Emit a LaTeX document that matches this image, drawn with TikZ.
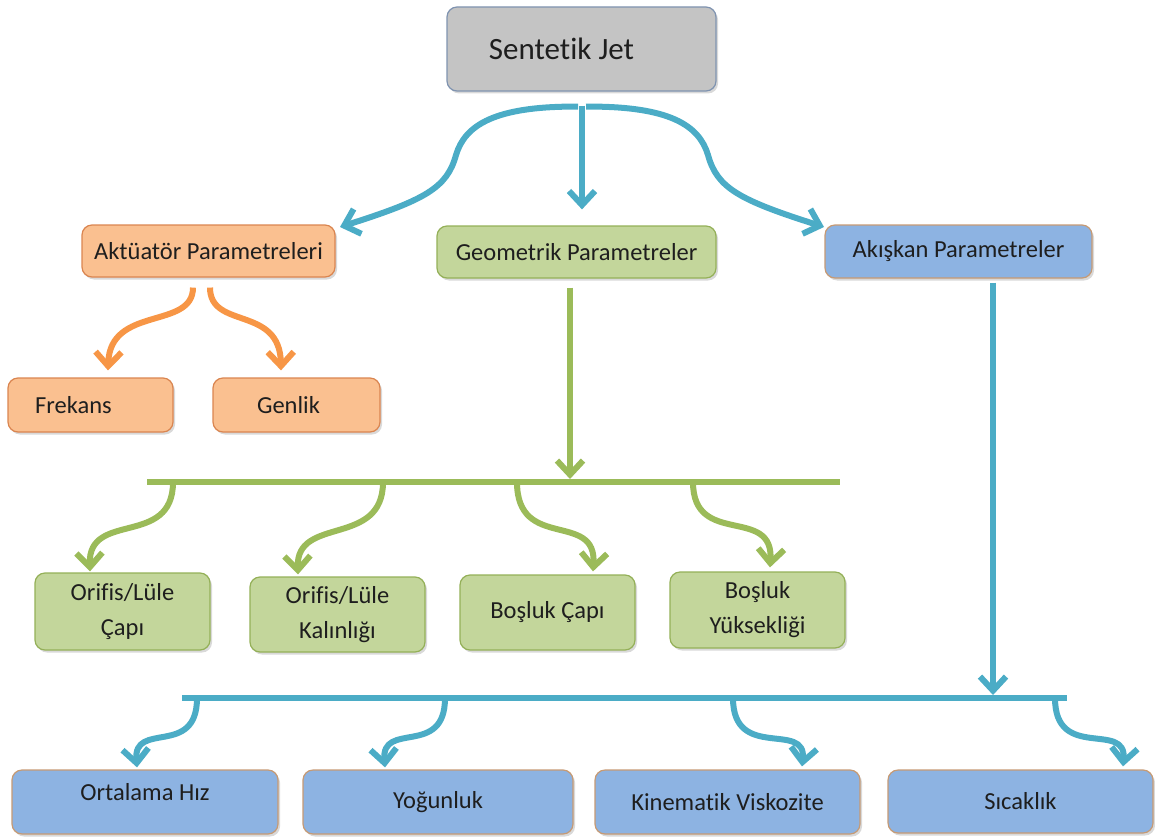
\documentclass[tikz,border=0pt]{standalone}
\usepackage{fontspec}
\setmainfont{Carlito}[Ligatures=NoCommon]
\usetikzlibrary{arrows.meta,shadows,calc}
\definecolor{lineblue}{HTML}{4BACC6}
\definecolor{linegreen}{HTML}{9BBB59}
\definecolor{lineorange}{HTML}{F79646}
\definecolor{greyfill}{HTML}{C4C4C4}
\definecolor{greyedge}{HTML}{7F93B0}
\definecolor{peachfill}{HTML}{FAC090}
\definecolor{peachedge}{HTML}{DA8550}
\definecolor{sagefill}{HTML}{C3D69B}
\definecolor{sageedge}{HTML}{94B058}
\definecolor{skyfill}{HTML}{8DB3E2}
\definecolor{skyedge}{HTML}{C69A74}
\definecolor{ink}{HTML}{1E1E1E}

\begin{document}
\begin{tikzpicture}[x=1pt,y=-1pt,
  box/.style={rounded corners=10pt, line width=1.2pt, inner sep=0pt,
    align=center, text=ink, font=\fontsize{24.5}{35}\selectfont,
    drop shadow={shadow xshift=2pt, shadow yshift=-2.5pt, opacity=0.3}},
  rootbox/.style={box, fill=greyfill, draw=greyedge, font=\fontsize{31}{37}\selectfont},
  actbox/.style={box, fill=peachfill, draw=peachedge},
  geobox/.style={box, fill=sagefill, draw=sageedge},
  flubox/.style={box, fill=skyfill, draw=skyedge},
  flow/.style={line width=6pt, -{Straight Barb[length=14pt,width=26pt]}},
  bar/.style={line width=6pt},
]
\useasboundingbox (0,0) rectangle (1155,837);

% boxes
\node[rootbox, minimum width=269pt, minimum height=84pt] (jet) at (581.5,49) {Sentetik Jet\hspace*{40pt}};

\node[actbox, minimum width=253pt, minimum height=52pt] (akt) at (208.5,251) {Aktüatör Parametreleri};
\node[geobox, minimum width=279pt, minimum height=52pt] (geo) at (576.5,252) {Geometrik Parametreler};
\node[flubox, minimum width=267pt, minimum height=53pt] (aks) at (958.5,251.5) {Akışkan Parametreler};

\node[actbox, minimum width=165pt, minimum height=54pt] (frek) at (90.5,405) {Frekans\hspace*{34pt}};
\node[actbox, minimum width=167pt, minimum height=54pt] (genl) at (296.5,405) {Genlik\hspace*{16pt}};

\node[geobox, minimum width=175pt, minimum height=77pt] (or1) at (122.5,611.5) {Orifis/Lüle\\Çapı};
\node[geobox, minimum width=175pt, minimum height=75pt] (or2) at (337.5,614.5) {Orifis/Lüle\\Kalınlığı};
\node[geobox, minimum width=175pt, minimum height=75pt] (bc) at (547.5,612.5) {Boşluk Çapı};
\node[geobox, minimum width=175pt, minimum height=76pt] (by) at (757.5,610) {Boşluk\\Yüksekliği};

\node[flubox, minimum width=266pt, minimum height=64pt] (oh) at (145,802) {Ortalama Hız\\[-15pt]\mbox{}};
\node[flubox, minimum width=270pt, minimum height=64pt] (yog) at (438,802) {Yoğunluk};
\node[flubox, minimum width=265pt, minimum height=64pt] (kin) at (727.5,802) {Kinematik Viskozite};
\node[flubox, minimum width=265pt, minimum height=63pt] (sic) at (1020.5,801.5) {Sıcaklık};

% branch points and arrow ends
\coordinate (jetfork) at ($(jet.south)+(0.5,14)$);
\coordinate (geoin) at ($(geo.north)+(5.5,-16)$);
\coordinate (aktin) at (340,227);
\coordinate (aksin) at (824,227);

\coordinate (gbarL) at (147,482);
\coordinate (gbarR) at (840,482);
\coordinate (gjoin) at (570,479);
\coordinate (bbarL) at (182,698);
\coordinate (bbarR) at (1067,698);
\coordinate (bjoin) at (993,695);

% root to the three parameter groups
\draw[flow, lineblue] (jetfork) -- (geoin);
\draw[flow, lineblue] ($(jetfork)+(-4,1)$) .. controls (495,106) and (465,125) .. (456,155)
   .. controls (447,188) and (425,200) .. (aktin);
\draw[flow, lineblue] ($(jetfork)+(4,1)$) .. controls (669,106) and (699,125) .. (708,155)
   .. controls (717,188) and (739,200) .. (aksin);

% actuator parameters
\draw[flow, lineorange] ($(akt.south)+(-15.5,10)$) .. controls (193,330) and (110,305) .. ($(frek.north)+(17.5,-7)$);
\draw[flow, lineorange] ($(akt.south)+(1.5,10)$) .. controls (210,330) and (280,305) .. ($(genl.north)+(-15.5,-7)$);

% geometric parameters
\draw[flow, linegreen] ($(geo.south)+(-6.5,9)$) -- (gjoin);
\draw[bar, linegreen] (gbarL) -- (gbarR);
\draw[flow, linegreen] (173,482) .. controls (173,548) and (88,510) .. ($(or1.north)+(-32.5,-1)$);
\draw[flow, linegreen] (383,482) .. controls (383,548) and (296,515) .. ($(or2.north)+(-39.5,-2)$);
\draw[flow, linegreen] (517,482) .. controls (517,552) and (597,510) .. ($(bc.north)+(45.5,-3)$);
\draw[flow, linegreen] (693,482) .. controls (693,548) and (774,505) .. ($(by.north)+(12.5,-4)$);

% fluid parameters
\draw[flow, lineblue] ($(aks.south)+(34.5,4)$) -- (bjoin);
\draw[bar, lineblue] (bbarL) -- (bbarR);
\draw[flow, lineblue] (197,698) .. controls (197,758) and (133,720) .. ($(oh.north)+(-8,-2)$);
\draw[flow, lineblue] (445,698) .. controls (445,758) and (381,720) .. ($(yog.north)+(-53,-2)$);
\draw[flow, lineblue] (733,698) .. controls (733,762) and (807,720) .. ($(kin.north)+(74.5,-3)$);
\draw[flow, lineblue] (1055,698) .. controls (1055,762) and (1127,720) .. ($(sic.north)+(102.5,-3)$);
\end{tikzpicture}
\end{document}
